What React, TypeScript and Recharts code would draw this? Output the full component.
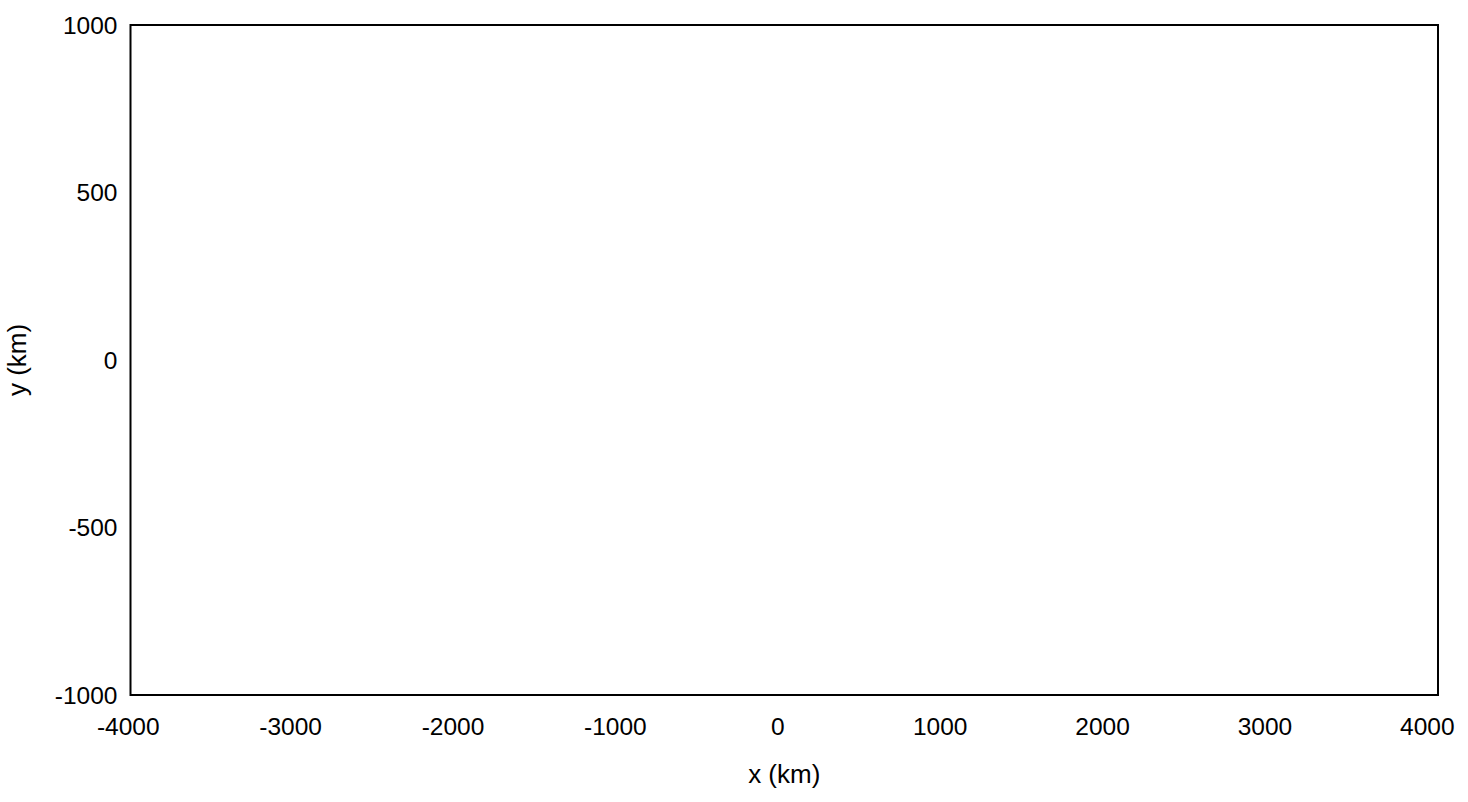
import React from 'react';
import { ScatterChart, Scatter, XAxis, YAxis, ReferenceArea } from 'recharts';

const xTicks = [-4000, -3000, -2000, -1000, 0, 1000, 2000, 3000, 4000];
const yTicks = [-1000, -500, 0, 500, 1000];
const points: { x: number; y: number }[] = [];

const family = '"Liberation Sans", Arial, sans-serif';
const tickFont = { fontFamily: family, fontSize: 24.5, fill: '#000' };

// x tick labels in the source sit slightly left of the frame, drifting more toward the right
const XTick = (props: any) => {
  const { x, y, payload, index } = props;
  const shift = -2.2 - 8.5 * (index / (xTicks.length - 1));
  return (
    <text x={x + shift} y={y} dy="0.71em" textAnchor="middle" fontFamily={family} fontSize={24.5} fill="#000">
      {payload.value}
    </text>
  );
};

const YTitle = () => (
  <text
    x={17}
    y={360}
    transform="rotate(-90, 17, 360)"
    textAnchor="middle"
    dominantBaseline="central"
    fontFamily={family}
    fontSize={26}
    fill="#000"
  >
    y (km)
  </text>
);

const App: React.FC = () => {
  return (
    <div style={{ position: 'absolute', left: 0, top: 0, width: 1468, height: 802, background: '#fff' }}>
      <ScatterChart width={1468} height={802} margin={{ top: 25, right: 30, left: 0, bottom: 0 }}>
        <XAxis
          type="number"
          dataKey="x"
          domain={[-4000, 4000]}
          ticks={xTicks}
          allowDataOverflow
          axisLine={false}
          tickLine={false}
          tickSize={0}
          tickMargin={23}
          height={107}
          tick={<XTick />}
          interval={0}
          label={{ value: 'x (km)', position: 'insideBottom', offset: 19, fontFamily: family, fontSize: 26, fill: '#000' }}
        />
        <YAxis
          type="number"
          dataKey="y"
          domain={[-1000, 1000]}
          ticks={yTicks}
          allowDataOverflow
          axisLine={false}
          tickLine={false}
          tickSize={0}
          tickMargin={13}
          width={130.5}
          tick={tickFont}
          interval={0}
          label={<YTitle />}
        />
        <ReferenceArea
          x1={-4000}
          x2={4000}
          y1={-1000}
          y2={1000}
          fill="none"
          fillOpacity={0}
          stroke="#000"
          strokeWidth={2}
          ifOverflow="visible"
        />
        <Scatter data={points} fill="#000" isAnimationActive={false} />
      </ScatterChart>
    </div>
  );
};

export default App;
